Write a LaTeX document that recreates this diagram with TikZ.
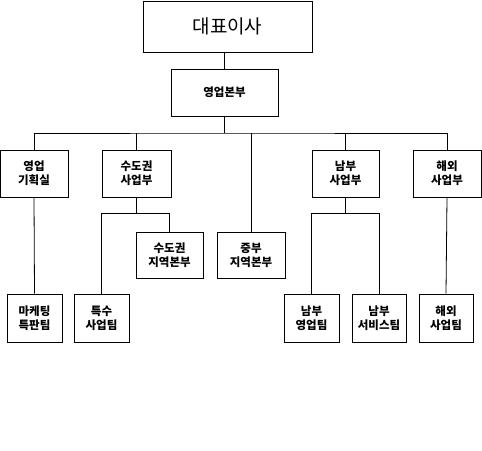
\documentclass[tikz,border=0pt]{standalone}
\usepackage{fontspec}
\setmainfont{Noto Sans CJK KR}
\begin{document}
\begin{tikzpicture}[x=1pt,y=-1pt,line width=.8pt,
	unit/.style={draw,inner sep=0pt,align=center,font=\fontsize{11.5}{14}\selectfont\bfseries},
	top/.style={draw,inner sep=0pt,font=\fontsize{19}{22}\selectfont}]
			\useasboundingbox (0,0) rectangle (482,450);
			% top two levels
			\node [top,minimum width=169pt,minimum height=51pt] (ceo) at (227.5,26.5) {대표이사};
			\node [unit,minimum width=107pt,minimum height=47pt] (sales) at (224.5,92.5) {영업본부};
			% departments
			\node [unit,minimum width=68pt,minimum height=47pt] (plan) at (34,173.5) {영업\\기획실};
			\node [unit,minimum width=69pt,minimum height=47pt] (metro) at (136.5,173.5) {수도권\\사업부};
			\node [unit,minimum width=67pt,minimum height=47pt] (south) at (345.5,173.5) {남부\\사업부};
			\node [unit,minimum width=68pt,minimum height=47pt] (abroad) at (447,173.5) {해외\\사업부};
			% regional offices
			\node [unit,minimum width=67pt,minimum height=46pt] (metroreg) at (169.5,255) {수도권\\지역본부};
			\node [unit,minimum width=68pt,minimum height=46pt] (midreg) at (251,255) {중부\\지역본부};
			% teams
			\node [unit,minimum width=55pt,minimum height=48pt] (mkt) at (34.5,318) {마케팅\\특판팀};
			\node [unit,minimum width=55pt,minimum height=48pt] (special) at (101.5,318) {특수\\사업팀};
			\node [unit,minimum width=55pt,minimum height=48pt] (southsales) at (311.5,318) {남부\\영업팀};
			\node [unit,minimum width=54pt,minimum height=48pt] (southsvc) at (379,318) {남부\\서비스팀};
			\node [unit,minimum width=54pt,minimum height=48pt] (abroadteam) at (446,318) {해외\\사업팀};
			% connectors
			\coordinate (bar) at (224.5,133);
			\draw (sales.north) -- (sales.north |- ceo.south);
			\draw (sales.south) -- (bar);
			\draw (plan.north) |- (bar) -| (abroad.north);
			\draw (metro.north) -- (metro.north |- bar);
			\draw (south.north) -- (south.north |- bar);
			\draw (midreg.north |- bar) -- (midreg.north);
			\draw (plan.south) -- (mkt.north);
			\draw (metro.south) -- ++(0,16) coordinate (mfork);
			\draw (special.north) |- (mfork) -| (metroreg.north);
			\draw (south.south) -- ++(0,16) coordinate (sfork);
			\draw (southsales.north) |- (sfork) -| (southsvc.north);
			\draw (abroad.south) -- (abroadteam.north);
			\end{tikzpicture}
\end{document}
